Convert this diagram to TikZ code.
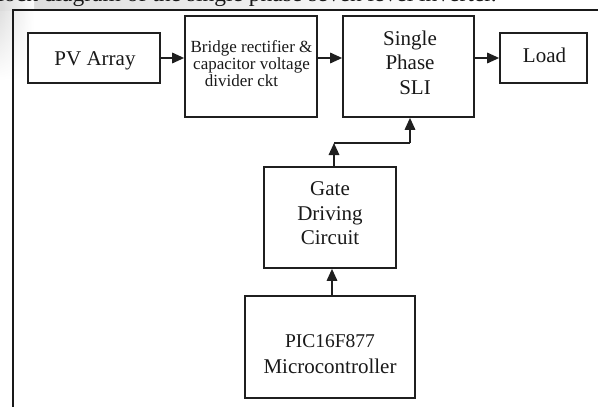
\documentclass[tikz,border=0pt]{standalone}
\usepackage{fontspec}
\setmainfont{Liberation Serif}
\usetikzlibrary{arrows.meta,fadings}
\begin{document}
\begin{tikzpicture}[x=1pt,y=-1pt,
  blk/.style={draw=black!88, line width=1.7pt, fill=white, inner sep=0pt},
  txt/.style={inner sep=0pt, align=center, text=black!90},
  big/.style={font=\fontsize{21}{24.5}\selectfont},
  small/.style={font=\fontsize{17}{17}\selectfont},
  ln/.style={draw=black!88, line width=1.7pt},
  arr/.style={ln, -{Triangle[length=12pt,width=10.5pt]}}]
\useasboundingbox (0,0) rectangle (598,407);
\clip (0,0) rectangle (598,407);
% scan shading
\shade[left color=black!14, right color=white] (0,0) rectangle (470,10);
\shade[left color=black!14, right color=white, path fading=south] (0,0) rectangle (34,80);
% clipped caption
\node[txt, anchor=base east, font=\fontsize{23.5}{26}\selectfont] (cap) at (497,1.5) {Block diagram of the single phase seven level inverter.};
% frame
\draw[draw=black!90, line width=2.4pt] (599,10) -| (13,408);
% blocks
\node[blk, minimum width=132, minimum height=50] (pv) at (94,58) {};
\node[blk, minimum width=132, minimum height=101] (br) at (251,66.5) {};
\node[blk, minimum width=131, minimum height=101] (sli) at (408.5,66.5) {};
\node[blk, minimum width=87, minimum height=50] (load) at (543.5,58) {};
\node[blk, minimum width=132, minimum height=101] (gate) at (330,217.5) {};
\node[blk, minimum width=170, minimum height=102] (pic) at (330,347) {};
% texts
\node[txt, big, anchor=base] (pvt) at (95,65) {PV Array};
\node[txt, big, anchor=base] (loadt) at (544.5,62) {Load};
\node[txt, small] (brt) at (251.5,63.2) {Bridge rectifier \&\\capacitor voltage\\divider ckt\hspace*{20pt}};
\node[txt, big] (slit) at (410,62.4) {Single\\Phase\\\hspace*{10pt}SLI};
\node[txt, big] (gatet) at (330,213.3) {Gate\\Driving\\Circuit};
\node[txt, font=\fontsize{21}{26}\selectfont] (pict) at (330,354) {{\fontsize{19.5}{26}\selectfont PIC16F877}\\Microcontroller};
% connectors
\coordinate (j) at (334,143);
\coordinate (k) at (410,143);
\draw[arr] (pv.east) -- (pv.east -| br.west);
\draw[arr] (br.east |- load.west) -- (sli.west |- load.west);
\draw[arr] (sli.east |- load.west) -- (load.west);
\draw[arr] (gate.north -| j) -- (j);
\draw[ln] (j) -- (k);
\draw[arr] (k) -- (k |- sli.south);
\draw[arr] ([xshift=2pt]pic.north) -- ([xshift=2pt]gate.south);
\end{tikzpicture}
\end{document}
